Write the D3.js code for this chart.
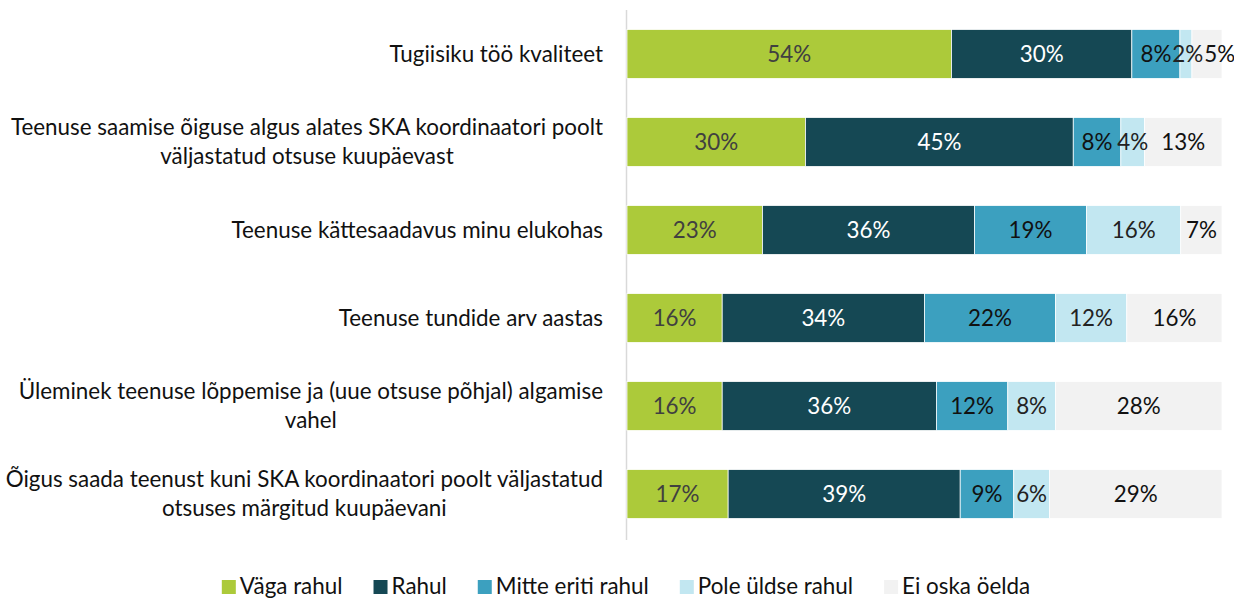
<!DOCTYPE html>
<html>
<head>
<meta charset="utf-8">
<script src="https://cdn.jsdelivr.net/npm/d3@7"></script>
<style>
  html, body { margin: 0; padding: 0; background: #fff; }
  svg { display: block; }
  text { font-family: Lato, "Open Sans", sans-serif; }
</style>
</head>
<body>
<svg id="chart" width="1234" height="599"></svg>
<script>
// Survey items (each line of a wrapped label is its own string)
const categories = [
  ["Tugiisiku töö kvaliteet"],
  ["Teenuse saamise õiguse algus alates SKA koordinaatori poolt", "väljastatud otsuse kuupäevast"],
  ["Teenuse kättesaadavus minu elukohas"],
  ["Teenuse tundide arv aastas"],
  ["Üleminek teenuse lõppemise ja (uue otsuse põhjal) algamise", "vahel"],
  ["Õigus saada teenust kuni SKA koordinaatori poolt väljastatud", "otsuses märgitud kuupäevani"]
];

const seriesNames = ["Väga rahul", "Rahul", "Mitte eriti rahul", "Pole üldse rahul", "Ei oska öelda"];

// Share of answers (%) per item, one array per answer option
const vagaRahul       = [54, 30, 23, 16, 16, 17];
const rahul           = [30, 45, 36, 34, 36, 39];
const mitteEritiRahul = [8, 8, 19, 22, 12, 9];
const poleUldseRahul  = [2, 4, 16, 12, 8, 6];
const eiOskaOelda     = [5, 13, 7, 16, 28, 29];

const seriesValues = [vagaRahul, rahul, mitteEritiRahul, poleUldseRahul, eiOskaOelda];

const colors = ["#acca3a", "#154854", "#3ca0bf", "#c2e7f1", "#f2f2f2"];
const labelColors = ["#404040", "#ffffff", "#111111", "#222222", "#111111"];

const svg = d3.select("#chart");
const fontSize = 22.4;

const plot = { left: 627, right: 1222, top: 10, bottom: 538 };

// 100% stacked: each row normalised by its own total
const rows = categories.map((c, i) => {
  const vals = seriesValues.map(s => s[i]);
  const total = d3.sum(vals);
  let acc = 0;
  const segs = vals.map((v, k) => {
    const seg = { key: k, value: v, x0: acc / total, x1: (acc + v) / total };
    acc += v;
    return seg;
  });
  return { index: i, label: c, segs };
});

const x = d3.scaleLinear().domain([0, 1]).range([plot.left, plot.right]);
const y = d3.scaleBand().domain(d3.range(categories.length))
  .range([plot.top, plot.bottom]).paddingInner(0.445).paddingOuter(0.222);

// Vertical category axis line
svg.append("line")
  .attr("x1", plot.left - 0.5).attr("x2", plot.left - 0.5)
  .attr("y1", plot.top).attr("y2", plot.bottom + 2)
  .attr("stroke", "#d9d9d9").attr("stroke-width", 1.5);

const rowG = svg.selectAll("g.row").data(rows).join("g")
  .attr("class", "row")
  .attr("transform", d => `translate(0,${y(d.index)})`);

rowG.selectAll("rect").data(d => d.segs).join("rect")
  .attr("x", s => x(s.x0))
  .attr("width", s => x(s.x1) - x(s.x0))
  .attr("y", 0)
  .attr("height", y.bandwidth())
  .attr("fill", s => colors[s.key])
  .attr("stroke", "#ffffff")
  .attr("stroke-width", 0.75);

rowG.each(function () {
  const labels = d3.select(this).selectAll("text.val").data(d => d.segs).join("text")
    .attr("class", "val")
    .attr("x", s => (x(s.x0) + x(s.x1)) / 2)
    .attr("y", y.bandwidth() / 2)
    .attr("dy", "0.35em")
    .attr("text-anchor", "middle")
    .attr("font-size", fontSize)
    .attr("fill", s => labelColors[s.key])
    .text(s => s.value + "%");
  // nudge labels of thin segments rightwards so they do not collide
  let prevRight = -Infinity;
  labels.each(function () {
    const t = d3.select(this);
    const w = this.getComputedTextLength();
    let cx = +t.attr("x");
    if (cx - w / 2 < prevRight + 1) cx = prevRight + 1 + w / 2;
    t.attr("x", cx);
    prevRight = cx + w / 2;
  });
});

// Category labels: block right-aligned to the axis, lines centred within the block
const labelRight = 603;
const lineH = 29;
rows.forEach(r => {
  const g = svg.append("g");
  const texts = r.label.map(line => g.append("text")
    .attr("font-size", fontSize).attr("fill", "#111").text(line));
  const widths = texts.map(t => t.node().getComputedTextLength());
  const blockW = d3.max(widths);
  const cx = labelRight - blockW / 2;
  const cy = y(r.index) + y.bandwidth() / 2;
  const n = r.label.length;
  texts.forEach((t, j) => {
    t.attr("x", cx).attr("text-anchor", "middle")
      .attr("y", cy + (j - (n - 1) / 2) * lineH)
      .attr("dy", "0.35em");
  });
});

// Legend, centred under the plot
const legend = svg.append("g");
const sw = 14, gapAfterSwatch = 4, itemGap = 31;
let lx = 0;
seriesNames.forEach((name, k) => {
  const g = legend.append("g");
  g.append("rect").attr("width", sw).attr("height", sw).attr("y", -sw / 2 + 1).attr("fill", colors[k]);
  const t = g.append("text").attr("x", sw + gapAfterSwatch).attr("dy", "0.35em")
    .attr("font-size", fontSize).attr("fill", "#111").text(name);
  const w = sw + gapAfterSwatch + t.node().getComputedTextLength();
  g.attr("transform", `translate(${lx},0)`);
  lx += w + itemGap;
});
const legendW = lx - itemGap;
legend.attr("transform", `translate(${626 - legendW / 2},586)`);
</script>
</body>
</html>
